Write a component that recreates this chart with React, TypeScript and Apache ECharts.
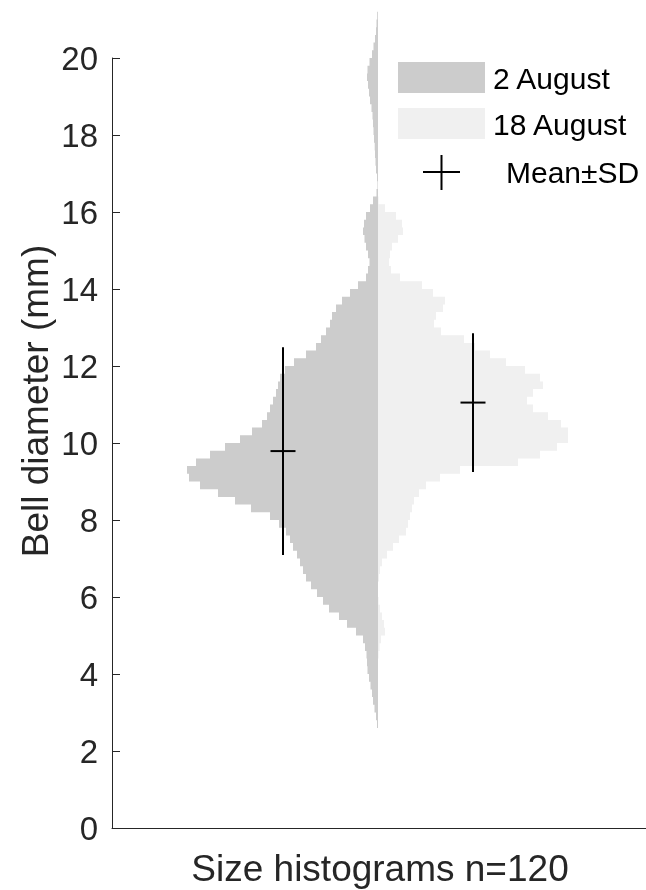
import React, { useEffect, useRef } from "react";
import * as echarts from "echarts";

// Histogram bins (bell diameter, mm)
const BIN_START = 2.4;
const BIN_WIDTH = 0.2;

// Relative frequency per bin (half-width of the split violin), 2 August
const aug2Values = [
  0, 1, 2, 3.5, 5, 6, 7.5, 9, 10.5, 11,
  11.5, 13, 15, 22, 31, 39, 49, 55, 61, 67,
  72, 75, 78, 81, 85, 88, 92, 99, 108, 127,
  143, 160, 178, 189, 191, 182, 168, 153, 138, 126,
  116, 111, 108, 105, 102, 100, 98, 93, 84, 72,
  62, 57, 52, 48, 46, 42, 36, 28, 20, 12,
  10, 8.5, 10, 12, 13.5, 15, 14, 12, 8, 5,
  1.5, 0.5, 1, 2, 2.5, 3, 3.3, 4, 4.5, 5,
  5.5, 6.5, 8, 9, 10, 11, 10.5, 8.5, 6, 4.5,
  3, 2, 1.5, 0.8, 0,
];

// Relative frequency per bin, 18 August
const aug18Values = [
  0, 0, 0, 0, 0, 0, 0, 0, 0, 0,
  0.5, 1.5, 3, 7, 6, 4, 2, 0.5, 0, 0,
  1, 2, 4, 9, 15, 21, 28, 30, 32, 34,
  36, 41, 48, 62, 82, 140, 162, 179, 190, 190,
  183, 170, 155, 149, 155, 165, 162, 147, 128, 112,
  97, 86, 63, 56, 58, 65, 67, 55, 44, 22,
  13, 11, 12, 14, 20, 25, 24, 18, 7, 0.5,
];

const seriesNames = ["2 August", "18 August"];
const seriesColors = ["#cccccc", "#f0f0f0"];
const means = [9.79, 11.05];
const sds = [2.7, 1.8];

const yTicks = [0, 2, 4, 6, 8, 10, 12, 14, 16, 18, 20];

const FONT = "'Liberation Sans', Arial, Helvetica, sans-serif";
const AXIS_COLOR = "#262626";

function histRender(values: number[], side: number, color: string) {
  return (_params: any, api: any) => {
    const pts: number[][] = [];
    pts.push(api.coord([0, BIN_START]));
    values.forEach((w, i) => {
      const lo = BIN_START + i * BIN_WIDTH;
      pts.push(api.coord([side * w, lo]));
      pts.push(api.coord([side * w, lo + BIN_WIDTH]));
    });
    pts.push(api.coord([0, BIN_START + values.length * BIN_WIDTH]));
    return {
      type: "polygon",
      shape: { points: pts },
      style: { fill: color, stroke: null },
    };
  };
}

export default function App() {
  const ref = useRef<HTMLDivElement>(null);

  useEffect(() => {
    if (!ref.current) return;
    const chart = echarts.init(ref.current, undefined, { renderer: "svg" });
    const groupOffset = 95;
    const meanData = means.map((m, i) => [(i === 0 ? -1 : 1) * groupOffset, m, sds[i]]);

    chart.setOption({
      animation: false,
      textStyle: { fontFamily: FONT },
      grid: { left: 112, right: 0, top: 58, bottom: 62 },
      xAxis: {
        type: "value",
        min: -266,
        max: 268,
        axisLine: { show: true, onZero: false, lineStyle: { color: AXIS_COLOR, width: 1 } },
        axisTick: { show: false },
        axisLabel: { show: false },
        splitLine: { show: false },
      },
      yAxis: {
        type: "value",
        min: 0,
        max: 20,
        interval: 2,
        axisLine: { show: true, onZero: false, lineStyle: { color: AXIS_COLOR, width: 1 } },
        axisTick: { show: true, inside: true, length: 8, lineStyle: { color: AXIS_COLOR } },
        axisLabel: {
          fontSize: 33,
          color: AXIS_COLOR,
          margin: 14,
          fontFamily: FONT,
          formatter: (v: number) => (yTicks.includes(v) ? String(v) : ""),
        },
        splitLine: { show: false },
      },
      series: [
        {
          name: seriesNames[0],
          type: "custom",
          clip: false,
          renderItem: histRender(aug2Values, -1, seriesColors[0]),
          data: [[0, 10]],
          encode: { x: 0, y: 1 },
          z: 1,
        },
        {
          name: seriesNames[1],
          type: "custom",
          clip: false,
          renderItem: histRender(aug18Values, 1, seriesColors[1]),
          data: [[0, 10]],
          encode: { x: 0, y: 1 },
          z: 1,
        },
        {
          name: "Mean±SD",
          type: "custom",
          clip: false,
          data: meanData,
          encode: { x: 0, y: 1 },
          z: 5,
          renderItem: (_p: any, api: any) => {
            const x = api.value(0);
            const m = api.value(1);
            const s = api.value(2);
            const top = api.coord([x, m + s]);
            const bot = api.coord([x, m - s]);
            const mid = api.coord([x, m]);
            const st = { stroke: "#000000", lineWidth: 2 };
            return {
              type: "group",
              children: [
                { type: "line", shape: { x1: top[0], y1: top[1], x2: bot[0], y2: bot[1] }, style: st },
                { type: "line", shape: { x1: mid[0] - 12.5, y1: mid[1], x2: mid[0] + 12.5, y2: mid[1] }, style: st },
              ],
            };
          },
        },
      ],
      graphic: [
        { type: "rect", shape: { x: 398, y: 62, width: 87, height: 31 }, style: { fill: seriesColors[0] } },
        {
          type: "text",
          x: 493,
          y: 78,
          style: { text: seriesNames[0], fontSize: 30, fontFamily: FONT, fill: "#000", verticalAlign: "middle" },
        },
        { type: "rect", shape: { x: 398, y: 108, width: 87, height: 31 }, style: { fill: seriesColors[1] } },
        {
          type: "text",
          x: 493,
          y: 124,
          style: { text: seriesNames[1], fontSize: 30, fontFamily: FONT, fill: "#000", verticalAlign: "middle" },
        },
        { type: "line", shape: { x1: 423, y1: 172, x2: 460, y2: 172 }, style: { stroke: "#000", lineWidth: 2 } },
        { type: "line", shape: { x1: 441.5, y1: 155, x2: 441.5, y2: 190 }, style: { stroke: "#000", lineWidth: 2 } },
        {
          type: "text",
          x: 506,
          y: 172,
          style: { text: "Mean±SD", fontSize: 30, fontFamily: FONT, fill: "#000", verticalAlign: "middle" },
        },
        {
          type: "text",
          x: 35,
          y: 401,
          rotation: Math.PI / 2,
          style: {
            text: "Bell diameter (mm)",
            fontSize: 37,
            fontFamily: FONT,
            fill: AXIS_COLOR,
            align: "center",
            verticalAlign: "middle",
          },
        },
        {
          type: "text",
          x: 380,
          y: 868,
          style: {
            text: "Size histograms n=120",
            fontSize: 37,
            fontFamily: FONT,
            fill: AXIS_COLOR,
            align: "center",
            verticalAlign: "middle",
          },
        },
      ],
    });
    return () => chart.dispose();
  }, []);

  return <div ref={ref} style={{ position: "fixed", left: 0, top: 0, width: 646, height: 890 }} />;
}
